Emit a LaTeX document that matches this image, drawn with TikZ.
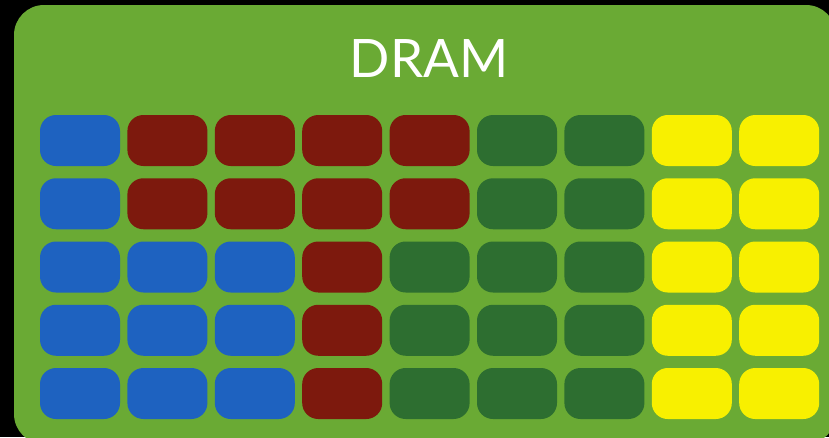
\documentclass[tikz,border=0pt]{standalone}
\usepackage{fontspec}
\setmainfont{Lato}
\definecolor{bgblack}{RGB}{0,0,0}
\definecolor{panel}{RGB}{106,170,52}
\definecolor{cblue}{RGB}{30,98,192}
\definecolor{cred}{RGB}{125,25,13}
\definecolor{cgreen}{RGB}{45,110,48}
\definecolor{cyellow}{RGB}{248,240,0}
\tikzset{
  cell/.style={rounded corners=16pt, minimum width=80pt, minimum height=51pt, inner sep=0pt, draw=none},
  B/.style={cell, fill=cblue},
  R/.style={cell, fill=cred},
  G/.style={cell, fill=cgreen},
  Y/.style={cell, fill=cyellow},
}
\begin{document}
\begin{tikzpicture}[x=1pt,y=-1pt]
\useasboundingbox (0,0) rectangle (829,437);
\fill[bgblack] (0,0) rectangle (829,437);
\fill[panel, rounded corners=30pt] (14,5) rectangle (836,444);
\node[text=white, font=\fontsize{53}{60}\selectfont, inner sep=0pt] (title) at (429,59) {DRAM};
\foreach \row [count=\r from 0] in {{B,R,R,R,R,G,G,Y,Y},{B,R,R,R,R,G,G,Y,Y},{B,B,B,R,G,G,G,Y,Y},{B,B,B,R,G,G,G,Y,Y},{B,B,B,R,G,G,G,Y,Y}}{
  \foreach \c [count=\k from 0] in \row {
    \node[\c] (c\r-\k) at ({80+87.4*\k},{140.5+63.25*\r}) {};
  }
}
\end{tikzpicture}
\end{document}
